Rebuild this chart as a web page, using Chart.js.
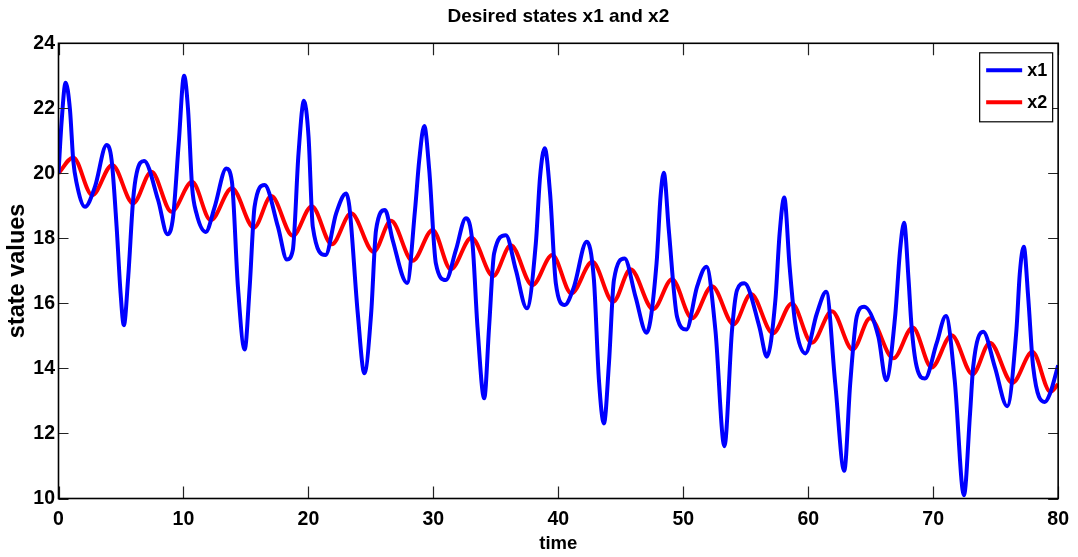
<!DOCTYPE html>
<html>
<head>
<meta charset="utf-8">
<title>Desired states x1 and x2</title>
<script src="https://cdn.jsdelivr.net/npm/chart.js@4.4.1/dist/chart.umd.min.js"></script>
<style>
  html, body { margin: 0; padding: 0; background: #fff; }
  #wrap { position: relative; width: 1078px; height: 557px; }
</style>
</head>
<body>
<div id="wrap"><canvas id="stateChart"></canvas></div>
<script>
// values: peaks, troughs and a few points on the steep flanks
const x1Time = [0, 0.25, 0.57, 0.92, 1.18, 1.45, 2.12, 2.92, 3.85, 4.25, 4.65, 4.97, 5.23, 5.58, 5.97, 6.25, 6.85,
  7.97, 8.72, 9.17, 9.62, 10.05, 10.37, 10.69, 11.04, 11.78, 12.5, 13.43, 13.88, 14.36, 14.9, 15.3, 15.69, 16.49,
  17.56, 18.28, 18.75, 19.21, 19.64, 20.01, 20.35, 21.37, 22.22, 23.02, 23.28, 23.95, 24.48, 25.02, 25.41, 26.13,
  26.74, 27.9, 28.53, 28.87, 29.27, 29.67, 30.2, 31.0, 31.8, 32.6, 33.13, 33.53, 34.07, 34.46, 34.86, 35.8,
  36.6, 37.48, 38.2, 38.54, 38.91, 39.34, 39.8, 40.51, 41.25, 42.27, 42.85, 43.25, 43.65, 44.05, 44.45, 45.3,
  46.18, 47.06, 47.86, 48.18, 48.44, 48.84, 49.5, 50.25, 51.1, 51.85, 52.57, 53.29, 53.9, 54.3, 54.89,
  56.09, 56.69, 57.37, 57.71, 58.08, 58.51, 58.96, 59.76, 60.69, 61.44, 62.16, 62.88, 63.36, 63.88, 64.47,
  65.62, 66.23, 66.95, 67.35, 67.67, 68.03, 68.27, 68.68, 69.34, 70.27, 71.02, 71.72, 72.46, 72.95, 73.2, 74.0,
  74.93, 75.92, 76.66, 76.93, 77.25, 77.6, 78.0, 78.93, 79.35, 80];
const x1Values = [20.0, 21.6, 22.79, 21.95, 20.4, 19.7, 18.97, 19.59, 20.87, 20.41, 18.36, 16.31, 15.33, 16.82, 19.18, 20.0, 20.38,
  19.18, 18.13, 18.66, 20.92, 23.0, 21.95, 19.59, 18.77, 18.2, 18.97, 20.15, 19.74, 16.51, 14.58, 16.51, 18.97, 19.64,
  18.36, 17.35, 17.64, 20.62, 22.23, 21.13, 18.36, 17.49, 18.77, 19.38, 18.97, 15.69, 13.85, 15.69, 18.25, 18.87,
  17.95, 16.63, 18.87, 20.41, 21.46, 20.1, 17.23, 16.72, 17.64, 18.62, 17.85, 15.28, 13.08, 15.28, 17.54, 18.1,
  17.03, 15.85, 17.85, 19.9, 20.77, 19.38, 16.62, 15.95, 16.51, 17.9, 16.72, 13.64, 12.31, 14.15, 16.72, 17.38,
  16.2, 15.1, 17.23, 19.28, 20.02, 18.26, 15.59, 15.2, 16.51, 17.13, 15.18, 11.61, 15.18, 16.41, 16.62,
  15.28, 14.36, 16.1, 18.15, 19.26, 17.13, 15.38, 14.46, 15.69, 16.36, 13.54, 10.85, 13.54, 15.59, 15.9,
  14.97, 13.64, 15.59, 17.64, 18.48, 16.72, 15.28, 14.05, 13.69, 14.77, 15.61, 13.64, 10.1, 12.62, 14.05, 15.13,
  14.05, 12.84, 15.18, 16.92, 17.74, 16.2, 14.05, 12.97, 13.23, 14.1];

const x2Time = [0, 1.18, 2.7, 4.3, 5.97, 7.44, 9.04, 10.69, 12.18, 13.88, 15.64, 17.03, 18.75, 20.27, 21.87, 23.42,
  25.22, 26.61, 28.34, 29.94, 31.4, 33.05, 34.78, 36.2, 37.92, 39.52, 41.04, 42.72, 44.39, 45.78, 47.59, 49.1,
  50.7, 52.3, 54.03, 55.42, 57.17, 58.69, 60.29, 61.89, 63.56, 64.95, 66.81, 68.36, 69.87, 71.47, 73.15, 74.54,
  76.34, 77.94, 79.38, 80];
const x2Values = [20.0, 20.49, 19.33, 20.26, 19.08, 20.05, 18.82, 19.74, 18.56, 19.54, 18.33, 19.3, 18.08, 18.99, 17.82, 18.77,
  17.59, 18.54, 17.31, 18.26, 17.05, 18.02, 16.84, 17.79, 16.56, 17.49, 16.31, 17.28, 16.05, 17.05, 15.82, 16.74,
  15.54, 16.53, 15.36, 16.29, 15.08, 16.0, 14.79, 15.76, 14.58, 15.54, 14.31, 15.26, 14.03, 15.02, 13.82, 14.79,
  13.56, 14.51, 13.28, 13.52];

const seriesNames = ["x1", "x2"];
const seriesColors = ["#0000ff", "#ff0000"];
const xTicks = [0, 10, 20, 30, 40, 50, 60, 70, 80];
const yTicks = [10, 12, 14, 16, 18, 20, 22, 24];

const FONT = "'Liberation Sans', Arial, sans-serif";

const toPoints = (xs, ys) => xs.map((x, i) => ({ x: x, y: ys[i] }));

// MATLAB style box: frame plus inward ticks on all four sides
const axesBox = {
  id: "axesBox",
  afterDraw(chart) {
    const { ctx, chartArea: a, scales } = chart;
    ctx.save();
    ctx.strokeStyle = "#222";
    ctx.lineWidth = 1.2;
    ctx.beginPath();
    xTicks.forEach((v) => {
      const px = Math.round(scales.x.getPixelForValue(v)) + 0.5;
      ctx.moveTo(px, a.bottom); ctx.lineTo(px, a.bottom - 12);
      ctx.moveTo(px, a.top); ctx.lineTo(px, a.top + 12);
    });
    yTicks.forEach((v) => {
      const py = Math.round(scales.y.getPixelForValue(v)) + 0.5;
      ctx.moveTo(a.left, py); ctx.lineTo(a.left + 10, py);
      ctx.moveTo(a.right, py); ctx.lineTo(a.right - 10, py);
    });
    ctx.stroke();
    ctx.strokeStyle = "#000";
    ctx.lineWidth = 1.6;
    ctx.strokeRect(a.left, a.top, a.right - a.left, a.bottom - a.top);
    ctx.restore();
  },
};

// legend box in the upper right corner, like MATLAB's
const boxLegend = {
  id: "boxLegend",
  afterDraw(chart) {
    const { ctx, chartArea: a } = chart;
    const w = 73, h = 69;
    const left = a.right - 79, top = a.top + 9;
    ctx.save();
    ctx.fillStyle = "#fff";
    ctx.fillRect(left, top, w, h);
    ctx.strokeStyle = "#000";
    ctx.lineWidth = 1.2;
    ctx.strokeRect(left + 0.5, top + 0.5, w, h);
    ctx.font = "bold 18px " + FONT;
    ctx.textBaseline = "middle";
    ctx.textAlign = "left";
    chart.data.datasets.forEach((ds, i) => {
      const y = top + 18 + i * 32;
      ctx.strokeStyle = ds.borderColor;
      ctx.lineWidth = 4;
      ctx.beginPath();
      ctx.moveTo(left + 7, y);
      ctx.lineTo(left + 43, y);
      ctx.stroke();
      ctx.fillStyle = "#000";
      ctx.fillText(ds.label, left + 48, y + 1);
    });
    ctx.restore();
  },
};

const ctx = document.getElementById("stateChart").getContext("2d");

new Chart(ctx, {
  type: "line",
  data: {
    datasets: [
      {
        label: seriesNames[0],
        data: toPoints(x1Time, x1Values),
        borderColor: seriesColors[0],
        borderWidth: 4,
        pointRadius: 0,
        cubicInterpolationMode: "monotone",
        fill: false,
      },
      {
        label: seriesNames[1],
        data: toPoints(x2Time, x2Values),
        borderColor: seriesColors[1],
        borderWidth: 4,
        pointRadius: 0,
        cubicInterpolationMode: "monotone",
        fill: false,
      },
    ],
  },
  options: {
    responsive: true,
    maintainAspectRatio: false,
    animation: false,
    layout: { padding: { left: 0, right: 18, top: 0, bottom: 0 } },
    plugins: {
      legend: { display: false },
      tooltip: { enabled: false },
      title: {
        display: true,
        fullSize: false,
        text: "Desired states x1 and x2",
        color: "#000",
        font: { family: FONT, size: 19, weight: "bold" },
        padding: { top: 5.6, bottom: 14.9 },
      },
    },
    scales: {
      x: {
        type: "linear",
        min: 0,
        max: 80,
        afterFit: (scale) => { scale.height = 58.5; },
        afterBuildTicks: (scale) => { scale.ticks = xTicks.map((v) => ({ value: v })); },
        grid: { display: false, drawTicks: false },
        border: { display: false },
        ticks: {
          color: "#000",
          padding: 9,
          maxRotation: 0,
          font: { family: FONT, size: 19.5, weight: "bold" },
        },
        title: {
          display: true,
          text: "time",
          color: "#000",
          font: { family: FONT, size: 18.5, weight: "bold" },
          padding: { top: 0, bottom: 2 },
        },
      },
      y: {
        min: 10,
        max: 24,
        afterFit: (scale) => { scale.width = 58.5; },
        afterBuildTicks: (scale) => { scale.ticks = yTicks.map((v) => ({ value: v })); },
        grid: { display: false, drawTicks: false },
        border: { display: false },
        ticks: {
          color: "#000",
          padding: 3.5,
          font: { family: FONT, size: 19.5, weight: "bold" },
        },
        title: {
          display: true,
          text: "state values",
          color: "#000",
          font: { family: FONT, size: 23.5, weight: "bold" },
          padding: { top: 3.5, bottom: 0 },
        },
      },
    },
  },
  plugins: [axesBox, boxLegend],
});
</script>
</body>
</html>
